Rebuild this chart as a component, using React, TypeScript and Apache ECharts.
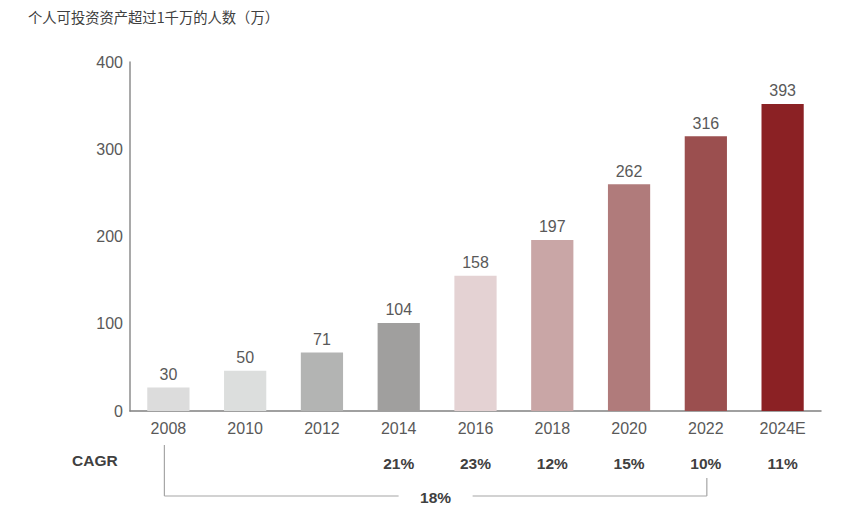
import React, { useEffect, useRef } from "react";
import * as echarts from "echarts";

const years = ["2008", "2010", "2012", "2014", "2016", "2018", "2020", "2022", "2024E"];
const barHeights = [27, 46, 67, 101, 155, 196, 260, 315, 352];
// value labels printed above the bars
const valueLabels = ["30", "50", "71", "104", "158", "197", "262", "316", "393"];
const cagrLabels = ["", "", "", "21%", "23%", "12%", "15%", "10%", "11%"];
const overallCagr = "18%";
const barColors = [
  "#dcdcdc",
  "#dcdedd",
  "#b3b4b3",
  "#a09f9e",
  "#e4d2d3",
  "#c9a6a6",
  "#b07b7b",
  "#9b4f4f",
  "#8b2124",
];
const titleText = "个人可投资资产超过1千万的人数（万）";
const cagrTitle = "CAGR";

const NUM_FONT = "'Liberation Sans', Arial, Helvetica, sans-serif";
const TEXT_GRAY = "#595959";
const DARK = "#404040";

export default function App() {
  const ref = useRef<HTMLDivElement>(null);

  useEffect(() => {
    if (!ref.current) return;
    const chart = echarts.init(ref.current, null, { renderer: "svg" });
    chart.setOption({
      animation: false,
      backgroundColor: "#ffffff",
      title: {
        text: titleText,
        left: 28,
        top: 9,
        padding: 0,
        textStyle: {
          fontSize: 14.3,
          fontWeight: "normal",
          color: DARK,
          fontFamily: "'Noto Sans CJK SC', sans-serif",
        },
      },
      grid: { left: 130, right: 44, top: 62, bottom: 117, containLabel: false },
      xAxis: [
        {
          type: "category",
          data: years,
          axisLine: { show: true, lineStyle: { color: "#808080", width: 1.5 } },
          axisTick: { show: false },
          axisLabel: { color: TEXT_GRAY, fontSize: 16, margin: 9, fontFamily: NUM_FONT },
        },
        {
          type: "category",
          data: cagrLabels,
          position: "bottom",
          offset: 36,
          axisLine: { show: false },
          axisTick: { show: false },
          axisLabel: {
            color: DARK,
            fontSize: 15.5,
            fontWeight: "bold",
            margin: 8,
            fontFamily: NUM_FONT,
            interval: 0,
          },
        },
      ],
      yAxis: {
        type: "value",
        min: 0,
        max: 400,
        interval: 100,
        axisLine: { show: true, lineStyle: { color: "#8c8c8c", width: 1.5 } },
        axisTick: { show: false },
        splitLine: { show: false },
        axisLabel: { color: TEXT_GRAY, fontSize: 16, margin: 7, fontFamily: NUM_FONT },
      },
      series: [
        {
          type: "bar",
          xAxisIndex: 0,
          barWidth: "55%",
          data: barHeights.map((v, i) => ({
            value: v,
            itemStyle: { color: barColors[i] },
          })),
          label: {
            show: true,
            position: "top",
            distance: 5,
            color: TEXT_GRAY,
            fontSize: 16,
            fontFamily: NUM_FONT,
            formatter: (p: any) => valueLabels[p.dataIndex],
          },
        },
      ],
    });

    const xStart = chart.convertToPixel({ xAxisIndex: 0 }, years[0]) as number;
    const xEnd = chart.convertToPixel({ xAxisIndex: 0 }, years[7]) as number;
    const y0 = chart.convertToPixel({ yAxisIndex: 0 }, 0) as number;
    const left = xStart - 4;
    const right = xEnd + 1;
    const mid = (left + right) / 2;
    const lineY = y0 + 85;
    const gap = 37;
    const lineStyle = { stroke: "#a6a6a6", lineWidth: 1.2 };

    chart.setOption({
      graphic: [
        {
          type: "text",
          left: 72,
          top: y0 + 41,
          style: {
            text: cagrTitle,
            fontSize: 15.5,
            fontWeight: "bold",
            fill: DARK,
            fontFamily: NUM_FONT,
          },
        },
        {
          type: "line",
          shape: { x1: left, y1: y0 + 34, x2: left, y2: lineY },
          style: lineStyle,
        },
        {
          type: "line",
          shape: { x1: left, y1: lineY, x2: mid - gap, y2: lineY },
          style: lineStyle,
        },
        {
          type: "line",
          shape: { x1: mid + gap, y1: lineY, x2: right, y2: lineY },
          style: lineStyle,
        },
        {
          type: "line",
          shape: { x1: right, y1: y0 + 67, x2: right, y2: lineY },
          style: lineStyle,
        },
        {
          type: "text",
          x: mid,
          y: lineY + 1,
          style: {
            text: overallCagr,
            fontSize: 15.5,
            fontWeight: "bold",
            fill: DARK,
            fontFamily: NUM_FONT,
            align: "center",
            verticalAlign: "middle",
          },
        },
      ],
    });

    return () => chart.dispose();
  }, []);

  return (
    <div
      ref={ref}
      style={{ position: "absolute", left: 0, top: 0, width: 865, height: 528 }}
    />
  );
}
